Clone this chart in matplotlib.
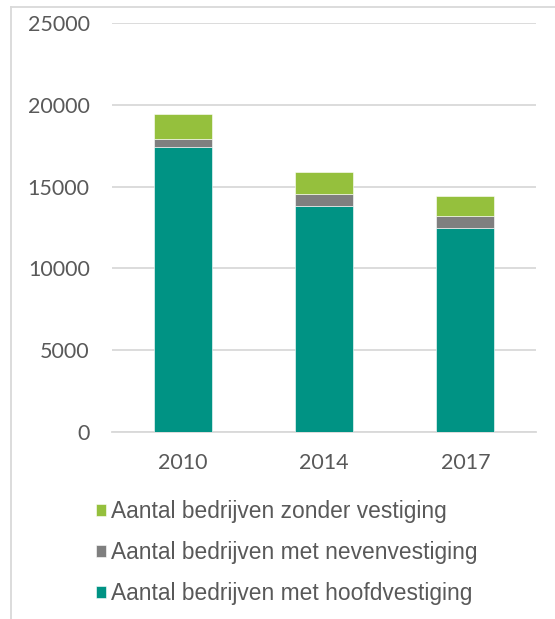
import matplotlib.pyplot as plt
from matplotlib.lines import Line2D
import numpy as np

# data
years = ['2010', '2014', '2017']
hoofdvestiging = [17400, 13800, 12500]
nevenvestiging = [530, 770, 700]
zonder_vestiging = [1500, 1320, 1210]

c_hoofd = '#009384'
c_neven = '#7f7f7f'
c_zonder = '#95c03d'
grid_c = '#d9d9d9'
text_c = '#595959'

fig = plt.figure(figsize=(5.55, 6.19), dpi=100)
ax = fig.add_axes([0.2018, 0.302, 0.7640, 0.6608])

x = np.arange(len(years))
w = 0.41
bottom2 = np.array(hoofdvestiging)
bottom3 = bottom2 + np.array(nevenvestiging)
b1 = ax.bar(x, hoofdvestiging, w, color=c_hoofd, edgecolor='white', linewidth=0.4, zorder=3)
b2 = ax.bar(x, nevenvestiging, w, bottom=bottom2, color=c_neven, edgecolor='white', linewidth=0.4, zorder=3)
b3 = ax.bar(x, zonder_vestiging, w, bottom=bottom3, color=c_zonder, edgecolor='white', linewidth=0.4, zorder=3)

ax.set_xlim(-0.5, 2.5)
ax.set_ylim(0, 25000)
ax.set_yticks(range(0, 25001, 5000))
ax.set_xticks(x)
ax.set_xticklabels(years)
ax.yaxis.grid(True, color=grid_c, linewidth=1.3, zorder=0)
for s in ['top', 'right', 'left']:
    ax.spines[s].set_visible(False)
ax.spines['bottom'].set_color(grid_c)
ax.spines['bottom'].set_linewidth(1.3)
ax.tick_params(axis='both', length=0, colors=text_c, labelsize=15.5)
ax.tick_params(axis='y', pad=16)
ax.tick_params(axis='x', pad=15)
for lab in ax.get_xticklabels() + ax.get_yticklabels():
    lab.set_family('Lato')

fig.legend([b3, b2, b1],
           ['Aantal bedrijven zonder vestiging', 'Aantal bedrijven met nevenvestiging',
            'Aantal bedrijven met hoofdvestiging'],
           loc='upper left', bbox_to_anchor=(0.173, 0.192), frameon=False,
           prop={'family': 'Liberation Sans', 'size': 16.4},
           labelcolor=text_c, handlelength=0.44, handleheight=0.44,
           handletextpad=0.22, labelspacing=0.79, borderpad=0, borderaxespad=0)

# chart frame (left and top)
fig.add_artist(Line2D([0.0198, 0.0198], [0.0, 0.9887], color=grid_c, linewidth=1.3))
fig.add_artist(Line2D([0.0198, 1.0], [0.9887, 0.9887], color=grid_c, linewidth=1.3))

plt.savefig('out.png', dpi=100)
